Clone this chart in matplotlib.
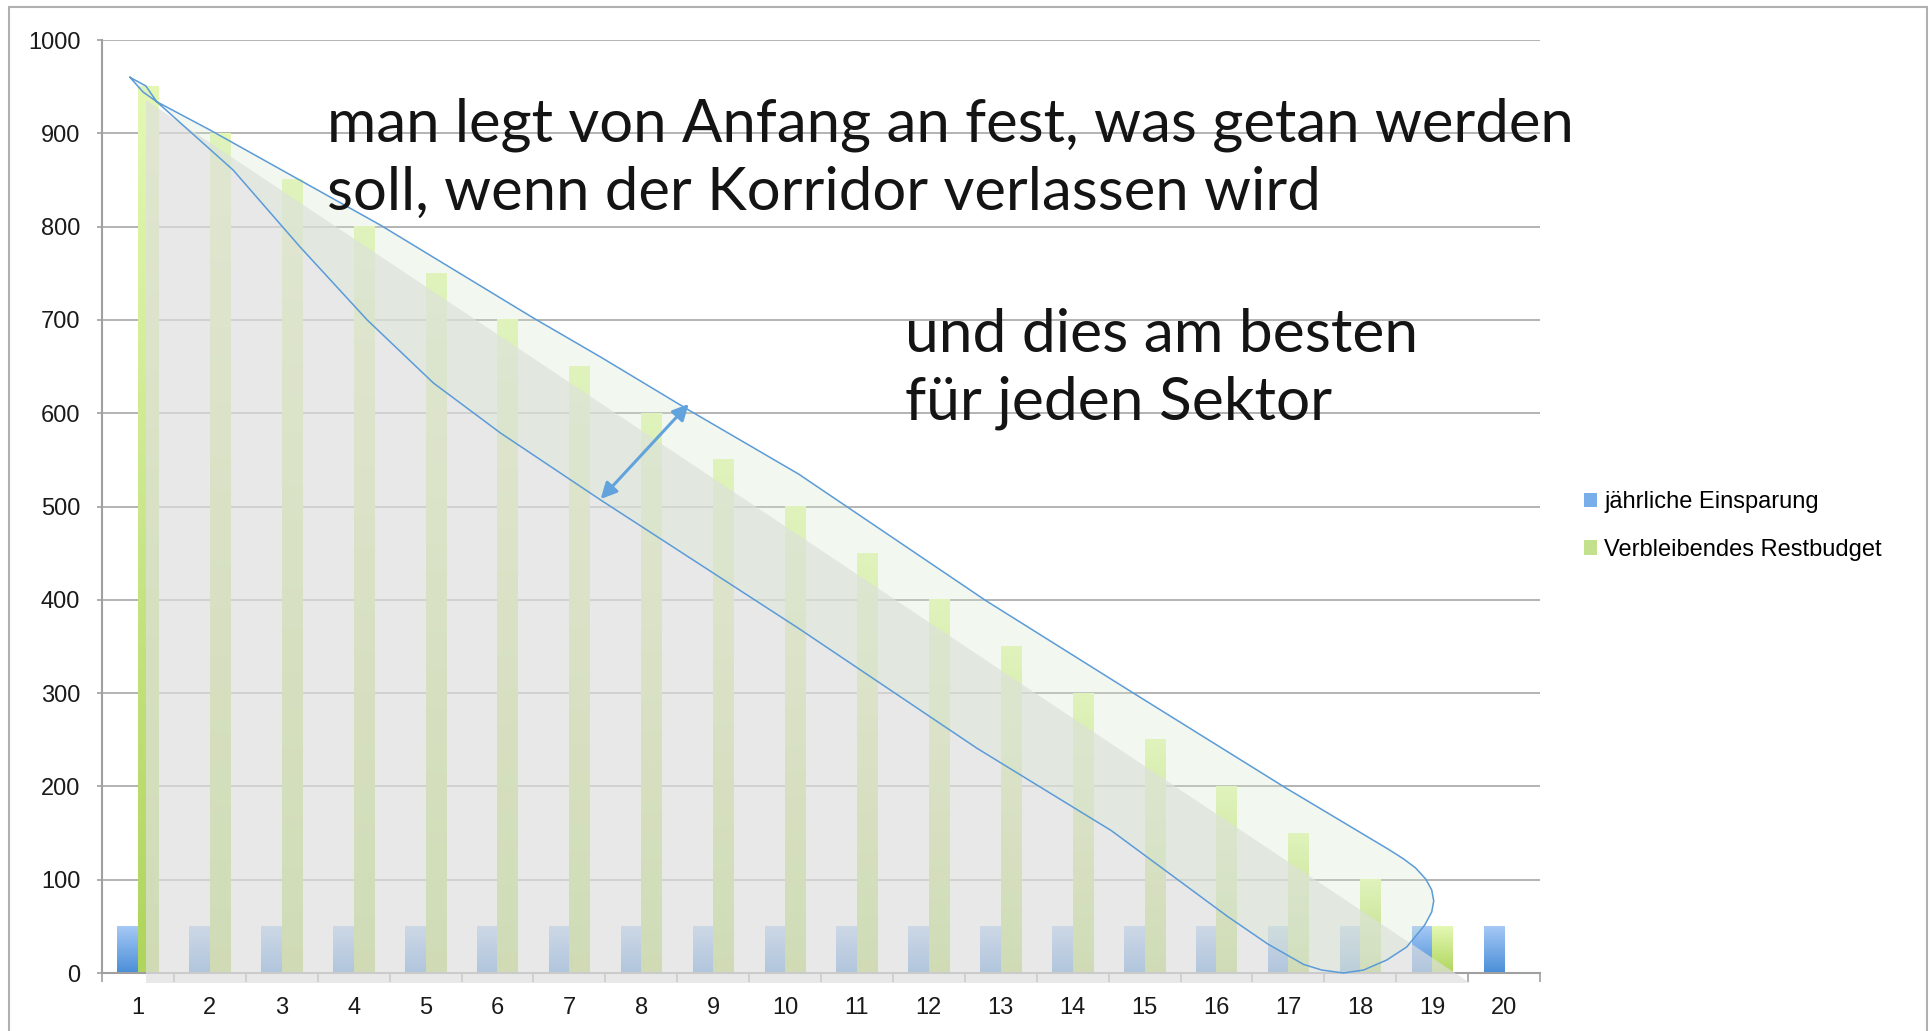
import numpy as np
import matplotlib.pyplot as plt
from matplotlib.patches import Polygon, Rectangle, Patch
from matplotlib.colors import LinearSegmentedColormap

# --- data ---
years = list(range(1, 21))
savings = [50] * 20
remaining = [950, 900, 850, 800, 750, 700, 650, 600, 550, 500,
             450, 400, 350, 300, 250, 200, 150, 100, 50, 0]
series_labels = ["jährliche Einsparung", "Verbleibendes Restbudget"]
y_ticks = list(range(0, 1001, 100))

# grey triangle laid over the bars (data coords)
shade_x = [1.11, 1.11, 19.52]
shade_y = [936, -11, -11]

# hand-drawn corridor outline (data coords), tip -> upper edge -> round end -> lower edge
corridor_x = [0.889, 1.111, 1.260, 2.003, 4.370, 6.501, 7.435, 8.660, 10.188,
              12.797, 14.851, 16.961, 18.396, 18.604, 18.771, 18.911, 18.994,
              19.022, 18.994, 18.897, 18.646, 18.368, 18.047, 17.769, 17.462,
              17.212, 16.710, 16.153, 14.538, 12.671, 10.188, 7.435, 6.042,
              5.109, 4.189, 3.256, 2.323, 1.260, 1.070, 0.889]
corridor_y = [960.0, 950.7, 933.9, 903.5, 801.7, 702.0, 660.2, 603.4, 534.8,
              398.9, 299.7, 198.5, 132.4, 122.2, 112.5, 100.7, 89.0,
              77.2, 65.4, 51.4, 27.9, 13.9, 3.2, 0.0, 3.2,
              9.2, 31.3, 60.7, 152.6, 240.8, 369.4, 507.0, 578.8,
              632.4, 699.9, 778.1, 860.7, 933.9, 944.3, 960.0]

arrow_start = (7.435, 508.0)
arrow_end = (8.660, 609.9)

note_lines = ["man legt von Anfang an fest, was getan werden",
              "soll, wenn der Korridor verlassen wird"]
note2_lines = ["und dies am besten", "für jeden Sektor"]

W, H = 1932, 1031
fig = plt.figure(figsize=(W / 100, H / 100), dpi=100)
ax = fig.add_axes([102 / W, 1 - 973 / H, (1540 - 102) / W, (973 - 40) / H])

blue_cmap = LinearSegmentedColormap.from_list("b", ["#4a8ed8", "#a6c9f5"])
green_cmap = LinearSegmentedColormap.from_list("g", ["#afd55c", "#e4f8b4"])
grad = np.linspace(0, 1, 256).reshape(-1, 1)

x = np.array(years)
w = 0.285
bars_b = ax.bar(x - w / 2, savings, w, color="none", edgecolor="none")
bars_g = ax.bar(x + w / 2, remaining, w, color="none", edgecolor="none")
for bars, cmap in ((bars_b, blue_cmap), (bars_g, green_cmap)):
    for r in bars:
        if r.get_height() <= 0:
            continue
        ax.imshow(grad, cmap=cmap, origin="lower", aspect="auto", zorder=2,
                  extent=[r.get_x(), r.get_x() + r.get_width(), 0, r.get_height()])
ax.set_xlim(0.5, 20.5)
ax.set_ylim(0, 1000)

# grid and axes
ax.set_axisbelow(True)
ax.yaxis.grid(True, color="#b3b3b3", lw=1.4)
for s in ("top", "right"):
    ax.spines[s].set_visible(False)
for s in ("left", "bottom"):
    ax.spines[s].set_color("#a0a0a0")
    ax.spines[s].set_linewidth(1.5)

ax.set_yticks(y_ticks)
ax.set_yticklabels([str(v) for v in y_ticks])
ax.set_xticks(years)
ax.set_xticklabels([str(v) for v in years])
ax.set_xticks(np.arange(0.5, 21, 1.0), minor=True)
ax.tick_params(axis="y", length=3.6, width=1.2, color="#a0a0a0", pad=12,
               labelsize=17, labelcolor="#1a1a1a")
ax.tick_params(axis="x", which="major", length=0, pad=17,
               labelsize=17, labelcolor="#1a1a1a")
ax.tick_params(axis="x", which="minor", length=6.5, width=1.2, color="#a0a0a0")
for lab in ax.get_xticklabels() + ax.get_yticklabels():
    lab.set_family("Liberation Sans")

# overlays
ax.add_patch(Polygon(list(zip(shade_x, shade_y)), closed=True,
                     facecolor=(223 / 255, 223 / 255, 223 / 255), alpha=0.69,
                     edgecolor="none", zorder=3, clip_on=False))
ax.add_patch(Polygon(list(zip(corridor_x, corridor_y)), closed=True,
                     facecolor=(215 / 255, 232 / 255, 208 / 255), alpha=0.3,
                     edgecolor="none", zorder=4, clip_on=False))
ax.plot(corridor_x, corridor_y, color="#5a9bd8", lw=1.1, zorder=5, clip_on=False,
        solid_joinstyle="round")
ax.annotate("", xy=arrow_end, xytext=arrow_start, zorder=6,
            arrowprops=dict(arrowstyle="<|-|>", color="#62a3dd", lw=2.2,
                            mutation_scale=24, shrinkA=0, shrinkB=0))

# legend
handles = [Patch(facecolor="#78aeea", label=series_labels[0]),
           Patch(facecolor="#c3e08c", label=series_labels[1])]
fig.legend(handles=handles, loc="center left", bbox_to_anchor=(1584 / W, 1 - 526 / H),
           frameon=False, prop={"family": "Liberation Sans", "size": 17},
           handlelength=0.55, handleheight=0.55, handletextpad=0.3,
           labelspacing=1.08, borderpad=0, borderaxespad=0)

# annotation texts
fig.canvas.draw()
rend = fig.canvas.get_renderer()


def put_block(lines, left, baselines, target_w):
    txts = [fig.text(left / W, 1 - b / H, s, family="Lato", fontweight="normal",
                     fontsize=40, color="#141414", va="baseline", ha="left", zorder=10)
            for s, b in zip(lines, baselines)]
    width = txts[0].get_window_extent(rend).width
    for t in txts:
        t.set_fontsize(40 * target_w / width)


put_block(note_lines, 327, [141.7, 210.0], 1245)
put_block(note2_lines, 905, [351.7, 420.0], 512)

# outer frame
fig.add_artist(Rectangle((9 / W, -0.1), (1927 - 9) / W, 1.1 - 7 / H,
                         transform=fig.transFigure, fill=False,
                         edgecolor="#b0b0b0", lw=1.5))

fig.savefig("out.png", dpi=100)
